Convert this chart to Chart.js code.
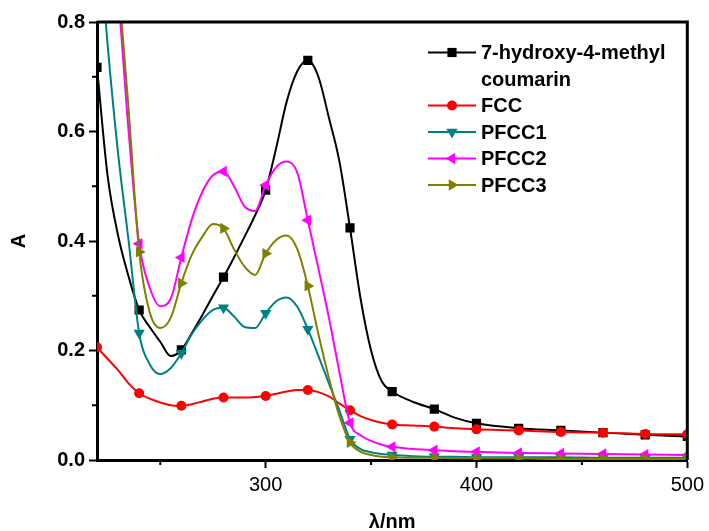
<!DOCTYPE html>
<html>
<head>
<meta charset="utf-8">
<script src="https://cdn.jsdelivr.net/npm/chart.js@4.4.0/dist/chart.umd.min.js"></script>
<style>
  html, body { margin: 0; padding: 0; background: #fff; }
</style>
</head>
<body>
<canvas id="chart" width="709" height="531"></canvas>
<script>
"use strict";

// wavelength (nm), markers sit on every 20 nm
const wavelength = [220, 225, 230, 235, 240, 245, 250, 255, 260, 265, 270, 275, 280, 285, 290, 295, 300, 305, 310, 315,
  320, 325, 330, 335, 340, 345, 350, 355, 360, 370, 380, 390, 400, 420, 440, 460, 480, 500];

const coumarin = [0.717, 0.52, 0.41, 0.335, 0.274, 0.243, 0.216, 0.19, 0.201, 0.232, 0.265, 0.30, 0.334, 0.37, 0.408, 0.447, 0.493, 0.57, 0.655, 0.71,
  0.73, 0.70, 0.625, 0.545, 0.424, 0.295, 0.20, 0.144, 0.125, 0.106, 0.093, 0.077, 0.067, 0.058, 0.054, 0.050, 0.046, 0.043];
const fcc = [0.206, 0.185, 0.164, 0.14, 0.122, 0.112, 0.105, 0.100, 0.099, 0.102, 0.107, 0.112, 0.114, 0.114, 0.114, 0.115, 0.117, 0.121, 0.125, 0.128,
  0.128, 0.124, 0.116, 0.103, 0.091, 0.080, 0.073, 0.068, 0.065, 0.063, 0.061, 0.058, 0.056, 0.054, 0.051, 0.050, 0.0475, 0.047];
const pfcc1 = [1.0, 0.76, 0.56, 0.40, 0.232, 0.175, 0.157, 0.168, 0.195, 0.23, 0.256, 0.274, 0.278, 0.262, 0.243, 0.241, 0.268, 0.29, 0.297, 0.28,
  0.239, 0.19, 0.14, 0.09, 0.038, 0.02, 0.014, 0.011, 0.009, 0.007, 0.006, 0.006, 0.005, 0.005, 0.005, 0.004, 0.004, 0.004];
const pfcc2 = [1.25, 1.02, 0.85, 0.60, 0.395, 0.315, 0.281, 0.295, 0.37, 0.44, 0.49, 0.52, 0.527, 0.50, 0.463, 0.455, 0.502, 0.535, 0.545, 0.525,
  0.438, 0.35, 0.26, 0.16, 0.068, 0.045, 0.035, 0.028, 0.024, 0.020, 0.018, 0.016, 0.015, 0.013, 0.012, 0.011, 0.010, 0.009];
const pfcc3 = [1.3, 1.07, 0.88, 0.64, 0.38, 0.27, 0.241, 0.26, 0.323, 0.375, 0.408, 0.431, 0.423, 0.385, 0.353, 0.338, 0.377, 0.402, 0.41, 0.385,
  0.318, 0.23, 0.15, 0.08, 0.032, 0.015, 0.009, 0.006, 0.005, 0.004, 0.004, 0.003, 0.003, 0.003, 0.002, 0.002, 0.002, 0.002];

const xTicks = [300, 400, 500];
const xMinor = [250, 350, 450];
const yTicks = [0, 0.2, 0.4, 0.6, 0.8];
const yMinor = [0.1, 0.3, 0.5, 0.7];

const series = [
  { label: ["7-hydroxy-4-methyl", "coumarin"], values: coumarin, color: "#000000", style: "rect", rot: 0, r: 6.5 },
  { label: ["FCC"], values: fcc, color: "#ff0000", style: "circle", rot: 0, r: 5 },
  { label: ["PFCC1"], values: pfcc1, color: "#008080", style: "triangle", rot: 180, r: 6.5 },
  { label: ["PFCC2"], values: pfcc2, color: "#ff00ff", style: "triangle", rot: -90, r: 6.5 },
  { label: ["PFCC3"], values: pfcc3, color: "#808000", style: "triangle", rot: 90, r: 6.5 }
];

Chart.defaults.font.family = "'Liberation Sans', Arial, sans-serif";
Chart.defaults.color = "#000";

const datasets = series.map((s, i) => ({
  label: s.label.join(" "),
  data: wavelength.map((w, j) => ({ x: w, y: s.values[j] })),
  borderColor: s.color,
  backgroundColor: s.color,
  borderWidth: 2,
  pointStyle: s.style,
  rotation: s.rot,
  pointRadius: ctx => (wavelength[ctx.dataIndex] % 20 === 0 ? s.r : 0),
  pointBorderWidth: 0,
  cubicInterpolationMode: "monotone",
  order: -i
}));

// top/right frame, minor ticks and the legend box in the corner
const extras = {
  id: "extras",
  afterDatasetsDraw(chart) {
    const { ctx, chartArea: a, scales: { x, y } } = chart;
    ctx.save();
    ctx.strokeStyle = "#000";
    ctx.lineWidth = 3;
    ctx.beginPath();
    ctx.moveTo(a.left, a.top);
    ctx.lineTo(a.right, a.top);
    ctx.lineTo(a.right, a.bottom);
    ctx.stroke();

    ctx.lineWidth = 2;
    ctx.beginPath();
    xMinor.forEach(v => {
      const px = x.getPixelForValue(v);
      ctx.moveTo(px, a.bottom);
      ctx.lineTo(px, a.bottom + 5);
    });
    yMinor.forEach(v => {
      const py = y.getPixelForValue(v);
      ctx.moveTo(a.left, py);
      ctx.lineTo(a.left - 5, py);
    });
    ctx.stroke();

    let rowY = 52.5;
    ctx.font = "bold 20px 'Liberation Sans', Arial, sans-serif";
    ctx.textBaseline = "middle";
    ctx.textAlign = "left";
    series.forEach(s => {
      ctx.strokeStyle = s.color;
      ctx.fillStyle = s.color;
      ctx.lineWidth = 2;
      ctx.beginPath();
      ctx.moveTo(428, rowY);
      ctx.lineTo(476, rowY);
      ctx.stroke();
      Chart.helpers.drawPoint(ctx, { pointStyle: s.style, rotation: s.rot, radius: s.r, borderWidth: 0 }, 452, rowY);
      ctx.fillStyle = "#000";
      s.label.forEach(t => {
        ctx.fillText(t, 481, rowY + 1);
        rowY += 26.5;
      });
    });
    ctx.restore();
  }
};

new Chart(document.getElementById("chart").getContext("2d"), {
  type: "line",
  data: { datasets },
  options: {
    responsive: false,
    animation: false,
    layout: { padding: { top: 22, right: 20, left: 0, bottom: 0 } },
    plugins: { legend: { display: false }, tooltip: { enabled: false } },
    scales: {
      x: {
        type: "linear",
        min: 220,
        max: 500,
        afterBuildTicks: s => { s.ticks = xTicks.map(v => ({ value: v })); },
        afterFit: s => { s.height = 71; },
        grid: { drawOnChartArea: false, tickLength: 8, tickWidth: 2, tickColor: "#000" },
        border: { display: true, color: "#000", width: 3 },
        ticks: { font: { size: 20 }, padding: 5, maxRotation: 0 },
        title: { display: true, text: "λ/nm", font: { size: 20, weight: "bold" }, padding: { top: 0, bottom: -3 } }
      },
      y: {
        min: 0,
        max: 0.8,
        afterBuildTicks: s => { s.ticks = yTicks.map(v => ({ value: v })); },
        afterFit: s => { s.width = 97; },
        grid: { drawOnChartArea: false, tickLength: 8, tickWidth: 2, tickColor: "#000" },
        border: { display: true, color: "#000", width: 3 },
        ticks: { font: { size: 20, weight: "bold" }, padding: 4, callback: v => v.toFixed(1) },
        title: { display: true, text: "A", font: { size: 20, weight: "bold" }, padding: { top: 7, bottom: 0 } }
      }
    }
  },
  plugins: [extras]
});
</script>
</body>
</html>
